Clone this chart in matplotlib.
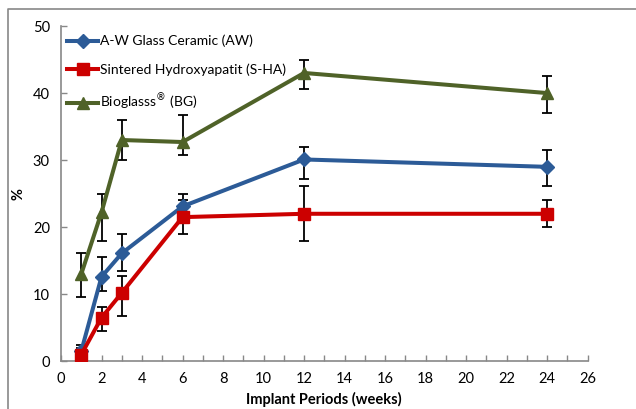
import numpy as np
import matplotlib.pyplot as plt
from matplotlib.lines import Line2D

plt.rcParams['font.family'] = ['Lato', 'DejaVu Sans']

weeks = [1, 2, 3, 6, 12, 24]

aw = [1.5, 12.6, 16.1, 23.1, 30.1, 29.0]
aw_lo = [1.0, 2.1, 2.6, 2.0, 2.9, 2.9]
aw_hi = [0.9, 2.9, 2.9, 1.9, 1.9, 2.5]

sha = [1.0, 6.5, 10.2, 21.5, 22.0, 22.0]
sha_lo = [1.0, 2.0, 3.5, 2.5, 4.0, 2.0]
sha_hi = [1.0, 1.6, 2.5, 2.5, 4.2, 2.0]

bg = [13.0, 22.2, 33.0, 32.7, 43.0, 40.0]
bg_lo = [3.4, 4.2, 3.0, 1.9, 2.4, 2.9]
bg_hi = [3.1, 2.8, 3.0, 4.1, 2.0, 2.6]

labels = ['A-W Glass Ceramic (AW)', 'Sintered Hydroxyapatit (S-HA)', 'Bioglasss$^{\u00ae}$ (BG)']
colors = ['#2C5B97', '#CC0000', '#4F6228']

fig = plt.figure(figsize=(6.36, 4.09), dpi=100)
ax = fig.add_axes([0.0959, 0.1166, 0.828, 0.8198])

series = [(aw, aw_lo, aw_hi, 'D', 7), (sha, sha_lo, sha_hi, 's', 9), (bg, bg_lo, bg_hi, '^', 9)]
handles = []
for (vals, lo, hi, mk, ms), lab, c in zip(series, labels, colors):
    ax.errorbar(weeks, vals, yerr=[lo, hi], fmt='none', ecolor='black',
                elinewidth=1.3, capsize=3.5, capthick=1.3, zorder=2)
    h, = ax.plot(weeks, vals, color=c, lw=2.9, marker=mk, markersize=ms,
                 markerfacecolor=c, markeredgecolor=c, label=lab, zorder=3)
    handles.append(h)

ax.set_xlim(0, 26)
ax.set_ylim(0, 50)
ax.set_xticks(np.arange(0, 27, 2))
ax.set_xticks(np.arange(0, 27, 1), minor=True)
ax.set_yticks(np.arange(0, 51, 10))
ax.tick_params(axis='both', which='both', direction='in', color='#888888',
               labelsize=10.5, length=4, width=1)
ax.tick_params(axis='x', pad=8)
ax.tick_params(axis='y', pad=8)
for s in ['top', 'right']:
    ax.spines[s].set_visible(False)
for s in ['left', 'bottom']:
    ax.spines[s].set_color('#888888')
    ax.spines[s].set_linewidth(1.2)

ax.set_xlabel('Implant Periods (weeks)', fontweight='bold', fontsize=10.5, labelpad=4)
ax.set_ylabel('%', fontweight='bold', fontsize=10.5)
ax.yaxis.set_label_coords(-0.068, 0.5)

ax.legend(handles=handles, loc='upper left', frameon=False, fontsize=10,
          handlelength=2.3, handletextpad=0.1, labelspacing=1.15,
          borderaxespad=0.0, bbox_to_anchor=(0.0, 0.99))

fig.add_artist(Line2D([8 / 636, 8 / 636, 1.0], [0.0, 1 - 9 / 409, 1 - 9 / 409],
                      transform=fig.transFigure, color='#888888', lw=1.2))

fig.savefig('out.png', dpi=100)
